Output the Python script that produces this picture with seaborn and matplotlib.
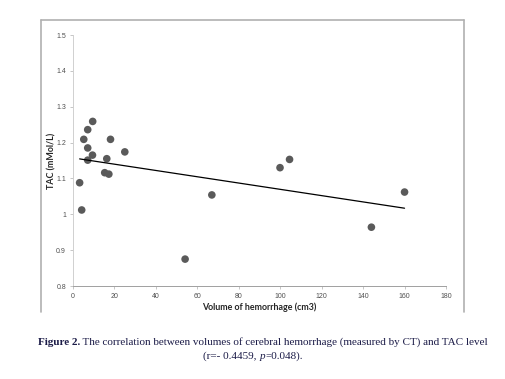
"""
Scatter of TAC level vs hemorrhage volume with linear fit (Figure 2 recreation).
"""
import matplotlib
matplotlib.use("Agg")
import matplotlib.pyplot as plt
import seaborn as sns
from matplotlib.lines import Line2D

sns.set_theme(style="white")
plt.rcParams["font.family"] = ["Lato", "DejaVu Sans"]

# --- data ---
volume_cm3 = [3.2, 4.2, 5.2, 7.1, 7.1, 7.1, 9.5, 9.4, 15.3, 16.3, 17.3, 18.1,
              25.0, 54.1, 67.0, 99.9, 104.5, 144.0, 160.0]
tac_mmol = [1.088, 1.012, 1.209, 1.236, 1.185, 1.151, 1.259, 1.165, 1.116, 1.155,
            1.112, 1.209, 1.174, 0.875, 1.054, 1.130, 1.153, 0.964, 1.062]
x_ticks = [0, 20, 40, 60, 80, 100, 120, 140, 160, 180]
y_ticks = [0.8, 0.9, 1.0, 1.1, 1.2, 1.3, 1.4, 1.5]
y_tick_labels = ["0.8", "0.9", "1", "1.1", "1.2", "1.3", "1.4", "1.5"]

fig = plt.figure(figsize=(5.05, 3.79), dpi=100)
fig.patch.set_facecolor("white")

# chart-area frame (Excel style)
frame_col = "#b0b0b0"
fx0, fx1, fy0, fy1 = 41 / 505, 464 / 505, 1 - 312 / 379, 1 - 20 / 379
for xs, ys in [([fx0, fx0], [fy0, fy1]), ([fx0, fx1], [fy1, fy1]), ([fx1, fx1], [fy1, fy0])]:
    fig.add_artist(Line2D(xs, ys, transform=fig.transFigure, color=frame_col, lw=1.2))

ax = fig.add_axes([73 / 505, 1 - 286 / 379, 373 / 505, 251 / 379])
sns.regplot(x=volume_cm3, y=tac_mmol, ax=ax, ci=None, truncate=True,
            scatter_kws=dict(s=30, color="#5a5a5a", edgecolor="none", alpha=1),
            line_kws=dict(color="black", lw=0.9))

ax.set_xlim(0, 180)
ax.set_ylim(0.8, 1.5)
ax.set_xticks(x_ticks)
ax.set_yticks(y_ticks)
ax.set_yticklabels(y_tick_labels)
ax.tick_params(axis="both", labelsize=5.0, colors="#bdbdbd", labelcolor="#505050",
               length=2.5, width=0.6, direction="out", pad=2.5)
ax.tick_params(axis="x", bottom=True, pad=2.5)
ax.tick_params(axis="y", left=True)
for lab in ax.get_xticklabels() + ax.get_yticklabels():
    lab.set_family("Liberation Sans")
for side in ["top", "right"]:
    ax.spines[side].set_visible(False)
ax.spines["left"].set_color("#d0d0d0")
ax.spines["bottom"].set_color("#a0a0a0")
ax.spines["left"].set_linewidth(0.7)
ax.spines["bottom"].set_linewidth(0.7)

ax.set_xlabel("Volume of hemorrhage (cm3)", fontsize=6.4, fontweight="bold", labelpad=2)
ax.set_ylabel("TAC (mMol/L)", fontsize=6.4, fontweight="bold")
ax.yaxis.set_label_coords(-0.045, 0.5)

# --- caption, assembled from pieces so bold/italic can be mixed ---
cap_col = "#1c1c48"
serif = "Liberation Serif"
fs = 8.0
renderer = fig.canvas.get_renderer()


def put_line(pieces, y, center):
    texts = []
    for txt, kw in pieces:
        t = fig.text(0, y, txt, family=serif, fontsize=fs, color=cap_col, va="baseline", **kw)
        texts.append(t)
    widths = [t.get_window_extent(renderer).width for t in texts]
    x = center - sum(widths) / 2
    for t, w in zip(texts, widths):
        t.set_x(x / 505)
        x += w


put_line([("Figure 2.", dict(fontweight="bold")),
          (" The correlation between volumes of cerebral hemorrhage (measured by CT) and TAC level", {})],
         1 - 345 / 379, 263)
put_line([("(r=- 0.4459, ", {}), ("p", dict(style="italic")), ("=0.048).", {})],
         1 - 359 / 379, 253)

fig.savefig("out.png", dpi=100, facecolor="white")
